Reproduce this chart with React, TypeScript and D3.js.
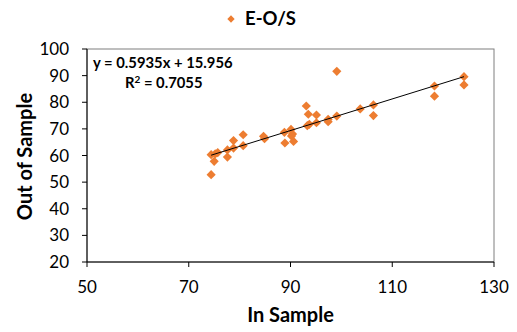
import { useEffect } from "react";
import * as d3 from "d3";

// E-O/S: in-sample vs out-of-sample
const inSample = [
  74.4, 74.4, 75.0, 75.2, 75.7, 77.6, 77.6, 78.8, 78.8, 80.7, 80.7, 84.7,
  84.9, 88.8, 88.9, 90.1, 90.4, 90.2, 90.6, 93.1, 93.5, 93.3, 93.7, 95.1,
  95.1, 97.4, 97.4, 99.1, 99.1, 103.7, 106.3, 106.3, 118.3, 118.3, 124.1,
  124.1,
];
const outSample = [
  52.8, 60.3, 57.8, 60.6, 61.1, 59.4, 62.1, 62.8, 65.6, 63.7, 67.8, 67.2,
  66.3, 68.7, 64.7, 69.8, 68.1, 67.3, 65.3, 78.6, 75.5, 71.2, 71.7, 75.2,
  72.3, 73.6, 72.7, 74.8, 91.6, 77.5, 79.0, 75.0, 86.1, 82.3, 89.6, 86.5,
];
const slope = 0.5935;
const intercept = 15.956;
const xTicks = [50, 70, 90, 110, 130];
const yTicks = [20, 30, 40, 50, 60, 70, 80, 90, 100];
const seriesName = "E-O/S";
const eqLabel = "y = 0.5935x + 15.956";
const r2Label = "0.7055";

const W = 517;
const H = 332;
const orange = "#ED7D31";
const font = "Lato, 'Open Sans', sans-serif";

export default function App() {
  useEffect(() => {
    document.body.style.margin = "0";
  }, []);

  const left = 87;
  const right = 494;
  const top = 49;
  const bottom = 262;

  const x = d3.scaleLinear().domain([50, 130]).range([left, right]);
  const y = d3.scaleLinear().domain([20, 100]).range([bottom, top]);

  const marker = d3.symbol(d3.symbolSquare, 42)() as string;
  const xMin = d3.min(inSample) as number;
  const xMax = d3.max(inSample) as number;
  const trend = d3.line<number>()
    .x((d) => x(d))
    .y((d) => y(slope * d + intercept));

  return (
    <svg width={W} height={H} style={{ display: "block", background: "#fff" }}>
      {/* legend */}
      <path d={marker} transform="translate(231,19) rotate(45) scale(0.8)" fill={orange} />
      <text x={245} y={25} fontFamily={font} fontWeight="bold" fontSize={18.5} fill="#000">
        {seriesName}
      </text>

      {/* plot frame */}
      <rect x={left} y={top} width={right - left} height={bottom - top} fill="none" stroke="#7f7f7f" strokeWidth={1} />
      <line x1={left} x2={left} y1={top} y2={bottom} stroke="#000" />
      <line x1={left} x2={right} y1={bottom} y2={bottom} stroke="#000" />

      {yTicks.map((t) => (
        <g key={"y" + t}>
          <line x1={left - 5} x2={left} y1={y(t)} y2={y(t)} stroke="#000" />
          <text x={69} y={y(t) + 6} textAnchor="end" fontFamily={font} fontSize={17} fill="#000">
            {t}
          </text>
        </g>
      ))}
      {xTicks.map((t) => (
        <g key={"x" + t}>
          <line x1={x(t)} x2={x(t)} y1={bottom} y2={bottom + 5} stroke="#000" />
          <text x={x(t)} y={bottom + 31} textAnchor="middle" fontFamily={font} fontSize={17} fill="#000">
            {t}
          </text>
        </g>
      ))}

      {/* points */}
      {inSample.map((v, i) => (
        <path
          key={i}
          d={marker}
          transform={`translate(${x(v)},${y(outSample[i])}) rotate(45)`}
          fill={orange}
        />
      ))}

      {/* linear trendline */}
      <path d={trend([xMin, xMax]) as string} fill="none" stroke="#000" strokeWidth={1} />

      <text x={93} y={68} fontFamily={font} fontWeight="bold" fontSize={14.8} fill="#000">
        {eqLabel}
      </text>
      <text x={125} y={88} fontFamily={font} fontWeight="bold" fontSize={14.8} fill="#000">
        R<tspan dy={-5} fontSize={10}>2</tspan>
        <tspan dy={5}>{" = " + r2Label}</tspan>
      </text>

      {/* axis titles */}
      <text x={(left + right) / 2} y={322} textAnchor="middle" fontFamily={font} fontWeight="bold" fontSize={20} fill="#000">
        In Sample
      </text>
      <text
        transform={`translate(32,${(top + bottom) / 2 + 1}) rotate(-90)`}
        textAnchor="middle"
        fontFamily={font}
        fontWeight="bold"
        fontSize={20}
        fill="#000"
      >
        Out of Sample
      </text>
    </svg>
  );
}
